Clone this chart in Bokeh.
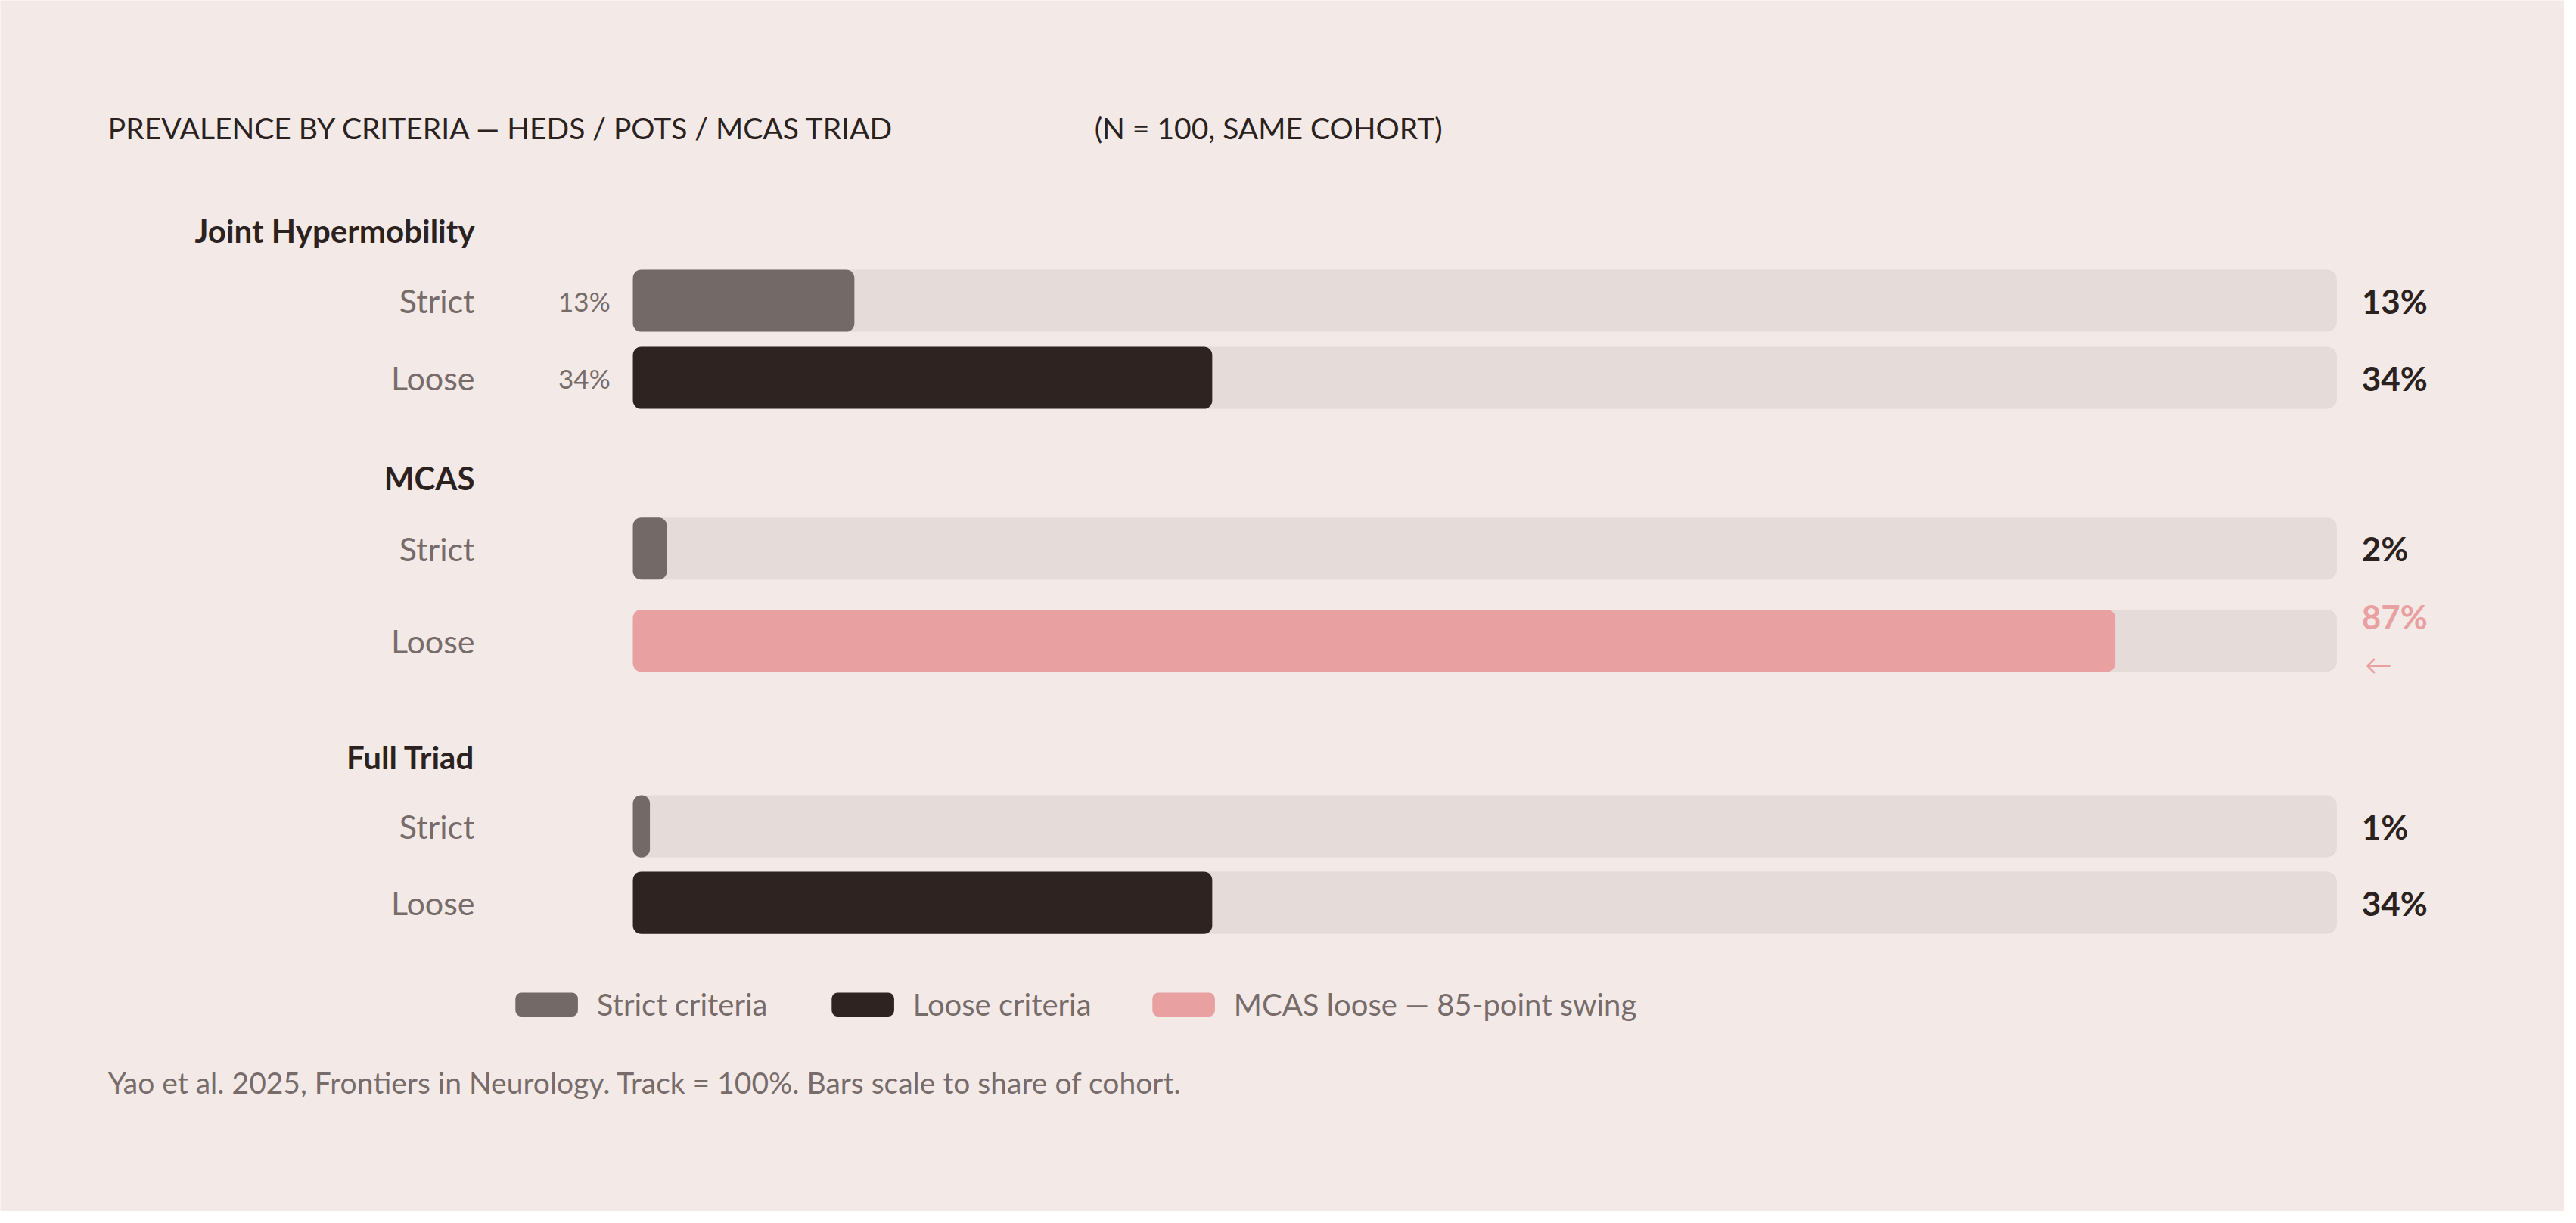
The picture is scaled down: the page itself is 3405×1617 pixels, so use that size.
from bokeh.plotting import figure
from bokeh.models import Range1d, ColumnDataSource
from bokeh.core.properties import value
from bokeh.embed import file_html
from bokeh.resources import INLINE

# ---------------- data ----------------
groups = ["Joint Hypermobility", "MCAS", "Full Triad"]
row_labels = ["Strict", "Loose"]
strict_values = [13, 2, 1]
loose_values = [34, 87, 34]
left_value_labels = ["13%", "34%"]          # shown only for the first group
legend_labels = ["Strict criteria", "Loose criteria", "MCAS loose — 85-point swing"]
title_text = "PREVALENCE BY CRITERIA — HEDS / POTS / MCAS TRIAD"
subtitle_text = "(N = 100, SAME COHORT)"
footnote_text = "Yao et al. 2025, Frontiers in Neurology. Track = 100%. Bars scale to share of cohort."

# ---------------- styles ----------------
BG = "#f3eae8"
TRACK = "#e5dcda"
STRICT = "#736967"
LOOSE = "#2e2321"
PINK = "#e8a0a0"
DARK_TXT = "#2b2220"
GREY_TXT = "#776c6a"
FONT = value("Lato")

W, H = 3389, 1601          # figure size (page has 8px margin)
RW, RH = 3405, 1617        # reference canvas, layout coordinates below are in these units
PX = 22.63                 # reference px per percentage point
X0_PX = 840                # reference x of 0%
XS = -X0_PX / PX


def px2x(px):
    return XS + px / PX


p = figure(width=W, height=H, output_backend="svg", toolbar_location=None,
           x_range=Range1d(XS, XS + RW / PX), y_range=Range1d(RH, 0),
           min_border=0, tools="")
p.background_fill_color = BG
p.border_fill_color = BG
p.outline_line_color = None
p.axis.visible = False
p.grid.visible = False

# ---------------- layout ----------------
header_y = [308, 638, 1010]
row_y = [[401, 504], [732, 855], [1103, 1205]]
BAR_H = 83

bar_y, bar_v, bar_c = [], [], []
lab_y, lab_t = [], []
val_y, val_t, val_c = [], [], []
for gi, g in enumerate(groups):
    sv, lv = strict_values[gi], loose_values[gi]
    for ri, (lab, v) in enumerate(zip(row_labels, [sv, lv])):
        y = row_y[gi][ri]
        bar_y.append(y)
        bar_v.append(v)
        if ri == 0:
            bar_c.append(STRICT)
        elif g == "MCAS":
            bar_c.append(PINK)
        else:
            bar_c.append(LOOSE)
        lab_y.append(y)
        lab_t.append(lab)
        is_swing = (g == "MCAS" and ri == 1)
        val_y.append(823 if is_swing else y)
        val_t.append(f"{v}%")
        val_c.append(PINK if is_swing else DARK_TXT)

# tracks
p.hbar(y=bar_y, left=0, right=100, height=BAR_H, fill_color=TRACK,
       line_color=None, border_radius=13)
# bars
src = ColumnDataSource(dict(y=bar_y, right=bar_v, color=bar_c))
p.hbar(y="y", left=0, right="right", height=BAR_H, fill_color="color",
       line_color=None, border_radius=11, source=src)

# group headers
p.text(x=[px2x(630)] * 3, y=header_y, text=groups, text_font=FONT,
       text_font_style="bold", text_font_size="42px", text_color=DARK_TXT,
       text_align="right", text_baseline="middle")
# row labels
p.text(x=[px2x(630)] * len(lab_y), y=lab_y, text=lab_t, text_font=FONT,
       text_font_size="43px", text_color=GREY_TXT,
       text_align="right", text_baseline="middle")
# small left value labels (first group only)
p.text(x=[px2x(810)] * 2, y=row_y[0], text=left_value_labels, text_font=FONT,
       text_font_size="35px", text_color=GREY_TXT,
       text_align="right", text_baseline="middle")

# right value labels
p.text(x=[px2x(3136)] * len(val_y), y=val_y, text=val_t, text_font=FONT,
       text_font_style="bold", text_font_size="44px", text_color=val_c,
       text_align="left", text_baseline="middle")
p.text(x=[px2x(3140)], y=[886], text=["←"], text_font=FONT,
       text_font_size="36px", text_color=PINK,
       text_align="left", text_baseline="middle")

# title
p.text(x=[px2x(143)], y=[170], text=[title_text], text_font=FONT,
       text_font_size="39px", text_color=DARK_TXT,
       text_align="left", text_baseline="middle")
p.text(x=[px2x(1453)], y=[170], text=[subtitle_text], text_font=FONT,
       text_font_size="39px", text_color=DARK_TXT,
       text_align="left", text_baseline="middle")

# legend
sw_left = [684, 1104, 1530]
sw_w = 83
leg_y = 1341
p.quad(left=[px2x(a) for a in sw_left], right=[px2x(a + sw_w) for a in sw_left],
       top=[leg_y - 16] * 3, bottom=[leg_y + 16] * 3,
       fill_color=[STRICT, LOOSE, PINK], line_color=None, border_radius=8)
p.text(x=[px2x(a + sw_w + 25) for a in sw_left], y=[leg_y] * 3, text=legend_labels,
       text_font=FONT, text_font_size="40px", text_color=GREY_TXT,
       text_align="left", text_baseline="middle")

# footnote
p.text(x=[px2x(143)], y=[1445], text=[footnote_text], text_font=FONT,
       text_font_size="39px", text_color=GREY_TXT,
       text_align="left", text_baseline="middle")

open("out.html", "w").write(file_html(p, INLINE))
